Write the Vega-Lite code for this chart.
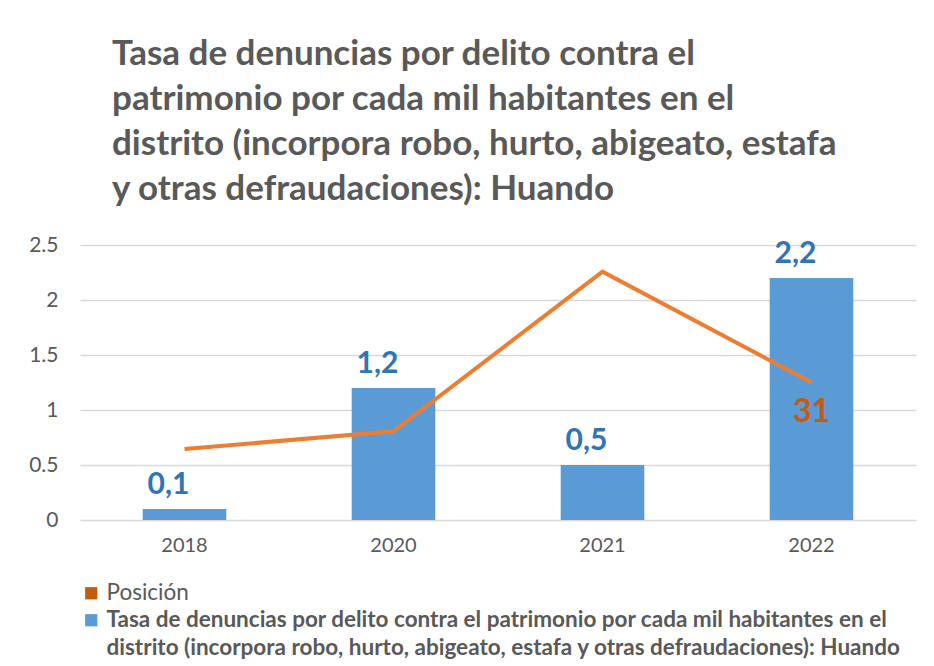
{
  "$schema": "https://vega.github.io/schema/vega-lite/v6.json",
  "width": 836,
  "height": 275,
  "autosize": "none",
  "padding": {"left": 80, "top": 245, "right": 18, "bottom": 146},
  "background": "white",
  "config": {
    "font": "Lato",
    "view": {"stroke": null},
    "style": {"guide-label": {"lineHeight": 28}},
    "locale": {"number": {"decimal": ",", "thousands": ".", "grouping": [3], "currency": ["", ""]}}
  },
  "title": {
    "text": ["Tasa de denuncias por delito contra el", "patrimonio por cada mil habitantes en el", "distrito (incorpora robo, hurto, abigeato, estafa", "y otras defraudaciones): Huando"],
    "anchor": "start",
    "frame": "group",
    "dx": 32,
    "offset": 27,
    "fontSize": 35,
    "lineHeight": 45,
    "fontWeight": "bold",
    "color": "#595959",
    "font": "Lato"
  },
  "data": {
    "values": [
      {"anio": "2018", "tasa": 0.1, "posicion": 16},
      {"anio": "2020", "tasa": 1.2, "posicion": 20},
      {"anio": "2021", "tasa": 0.5, "posicion": 56},
      {"anio": "2022", "tasa": 2.2, "posicion": 31}
    ]
  },
  "encoding": {
    "x": {
      "field": "anio",
      "type": "nominal",
      "scale": {"paddingInner": 0.6, "paddingOuter": 0.3},
      "axis": {
        "title": null,
        "labelAngle": 0,
        "domain": false,
        "ticks": false,
        "labelFontSize": 20,
        "labelColor": "#595959",
        "labelPadding": 15,
        "grid": false
      }
    }
  },
  "layer": [
    {
      "layer": [
        {
          "mark": {"type": "bar"},
          "encoding": {
            "y": {
              "field": "tasa",
              "type": "quantitative",
              "scale": {"domain": [0, 2.5]},
              "axis": {
                "title": null,
                "values": [0, 0.5, 1, 1.5, 2, 2.5],
                "format": "~g",
                "labelExpr": "replace(datum.label, ',', '.')",
                "domain": false,
                "ticks": false,
                "labelFontSize": 21,
                "labelColor": "#595959",
                "labelPadding": 22,
                "gridColor": "#D9D9D9",
                "gridWidth": 1.5
              }
            },
            "color": {
              "datum": "Tasa de denuncias por delito contra el patrimonio por cada mil habitantes en el distrito (incorpora robo, hurto, abigeato, estafa y otras defraudaciones): Huando",
              "type": "nominal",
              "scale": {
                "domain": ["Posición", "Tasa de denuncias por delito contra el patrimonio por cada mil habitantes en el distrito (incorpora robo, hurto, abigeato, estafa y otras defraudaciones): Huando"],
                "range": ["#C55A11", "#5B9BD5"]
              },
              "legend": {
                "title": null,
                "orient": "none",
                "legendX": 0,
                "legendY": 337,
                "direction": "vertical",
                "symbolType": "square",
                "symbolSize": 150,
                "symbolStrokeWidth": 0,
                "labelLimit": 0,
                "labelColor": "#595959",
                "labelFontSize": 22.5,
                "labelOffset": 4,
                "labelFontWeight": {"expr": "datum.value == 'Posición' ? 'normal' : 'bold'"},
                "labelExpr": "datum.value == 'Posición' ? 'Posición' : ['Tasa de denuncias por delito contra el patrimonio por cada mil habitantes en el', 'distrito (incorpora robo, hurto, abigeato, estafa y otras defraudaciones): Huando']",
                "rowPadding": 4
              }
            }
          }
        },
        {
          "mark": {"type": "text", "fontSize": 30, "fontWeight": "bold", "color": "#2E75B6", "dy": -15, "dx": -16, "baseline": "alphabetic"},
          "encoding": {
            "y": {"field": "tasa", "type": "quantitative", "scale": {"domain": [0, 2.5]}},
            "text": {"field": "tasa", "type": "quantitative", "format": ".1f"}
          }
        }
      ]
    },
    {
      "layer": [
        {
          "mark": {"type": "line", "color": "#ED7D31", "strokeWidth": 4},
          "encoding": {
            "y": {"field": "posicion", "type": "quantitative", "scale": {"domain": [0, 62]}, "axis": null}
          }
        },
        {
          "transform": [{"filter": "datum.anio == '2022'"}],
          "mark": {"type": "text", "fontSize": 32, "fontWeight": "bold", "color": "#C55A11", "dy": 39, "baseline": "alphabetic"},
          "encoding": {
            "y": {"field": "posicion", "type": "quantitative", "scale": {"domain": [0, 62]}},
            "text": {"field": "posicion", "type": "quantitative"}
          }
        }
      ]
    }
  ],
  "resolve": {"scale": {"y": "independent"}}
}
